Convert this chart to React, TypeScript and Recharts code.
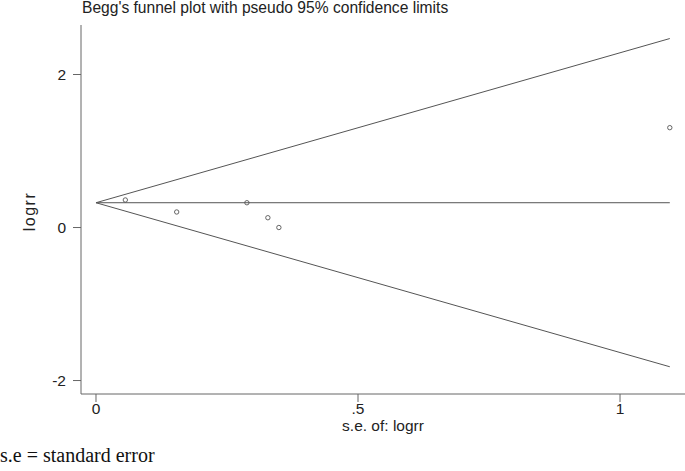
import React from 'react';
import { ScatterChart, Scatter, XAxis, YAxis, Label } from 'recharts';

// Study estimates (standard error of log RR, log RR)
const studySE = [0.056, 0.154, 0.288, 0.328, 0.349, 1.095];
const studyLogRR = [0.36, 0.203, 0.324, 0.128, 0.0, 1.305];

// Pseudo 95% confidence limit lines (end points)
const limitSE = [0, 1.095];
const pooledLine = [0.324, 0.324];
const upperLimit = [0.324, 2.47];
const lowerLimit = [0.324, -1.82];

// Axis ticks
const xTicks = [0, 0.5, 1];
const xTickLabels = ['0', '.5', '1'];
const yTicks = [-2, 0, 2];
const yTickLabels = ['-2', '0', '2'];

const titleText = "Begg's funnel plot with pseudo 95% confidence limits";
const xTitle = 's.e. of: logrr';
const yTitle = 'logrr';
const footnote = 's.e = standard error';

const studies = studySE.map((se, i) => ({ x: se, y: studyLogRR[i] }));
const mkLine = (ys: number[]) => limitSE.map((se, i) => ({ x: se, y: ys[i] }));

const SANS = '"Liberation Sans", Arial, Helvetica, sans-serif';
const LINE = '#555';
const AXIS = '#666';
const TEXT = '#222';

const NoShape = () => <g />;
const OpenCircle = (props: any) => (
  <circle cx={props.cx} cy={props.cy} r={2.2} fill="none" stroke={LINE} strokeWidth={0.9} />
);

export default function App() {
  return (
    <div style={{ position: 'absolute', left: 0, top: 0, width: 685, height: 471, background: '#fff' }}>
      <ScatterChart width={685} height={471} margin={{ top: 25, right: 0, bottom: 37, left: 0 }}>
        <XAxis
          type="number"
          dataKey="x"
          domain={[-0.0286, 1.124]}
          allowDataOverflow
          ticks={xTicks}
          tickFormatter={(v: number) => xTickLabels[xTicks.indexOf(v)] ?? String(v)}
          height={40}
          tickSize={8}
          tickMargin={1}
          stroke={AXIS}
          tick={{ fill: TEXT, fontSize: 15.5, fontFamily: SANS }}
          tickLine={{ stroke: AXIS }}
          axisLine={{ stroke: AXIS }}
        >
          <Label
            value={xTitle}
            position="insideBottom"
            offset={3}
            style={{ fill: TEXT, fontSize: 15.5, fontFamily: SANS }}
          />
        </XAxis>
        <YAxis
          type="number"
          dataKey="y"
          domain={[-2.176, 2.647]}
          allowDataOverflow
          ticks={yTicks}
          tickFormatter={(v: number) => yTickLabels[yTicks.indexOf(v)] ?? String(v)}
          width={81}
          tickSize={8}
          tickMargin={7}
          stroke={AXIS}
          tick={{ fill: TEXT, fontSize: 15.5, fontFamily: SANS }}
          tickLine={{ stroke: AXIS }}
          axisLine={{ stroke: AXIS }}
        >
          <Label
            content={(p: any) => {
              const vb = p.viewBox || { x: 0, y: 25, width: 81, height: 369 };
              const cx = 29.5;
              const cy = vb.y + vb.height / 2 + 2;
              return (
                <text
                  x={cx}
                  y={cy}
                  transform={`rotate(-90 ${cx} ${cy})`}
                  textAnchor="middle"
                  dominantBaseline="central"
                  style={{ fill: TEXT, fontSize: 16, fontFamily: SANS, letterSpacing: 1.5 }}
                >
                  {yTitle}
                </text>
              );
            }}
          />
        </YAxis>
        <Scatter data={mkLine(upperLimit)} line={{ stroke: LINE, strokeWidth: 1 }} shape={NoShape} isAnimationActive={false} />
        <Scatter data={mkLine(pooledLine)} line={{ stroke: LINE, strokeWidth: 1 }} shape={NoShape} isAnimationActive={false} />
        <Scatter data={mkLine(lowerLimit)} line={{ stroke: LINE, strokeWidth: 1 }} shape={NoShape} isAnimationActive={false} />
        <Scatter data={studies} shape={OpenCircle} isAnimationActive={false} />
      </ScatterChart>
      <svg
        width={685}
        height={471}
        style={{ position: 'absolute', left: 0, top: 0, pointerEvents: 'none' }}
      >
        <text x={82} y={12.8} style={{ fill: TEXT, fontSize: 15.6, fontFamily: SANS }}>
          {titleText}
        </text>
        <text x={0} y={462} style={{ fill: '#111', fontSize: 20, fontFamily: '"Liberation Serif", "Times New Roman", serif' }}>
          {footnote}
        </text>
      </svg>
    </div>
  );
}
